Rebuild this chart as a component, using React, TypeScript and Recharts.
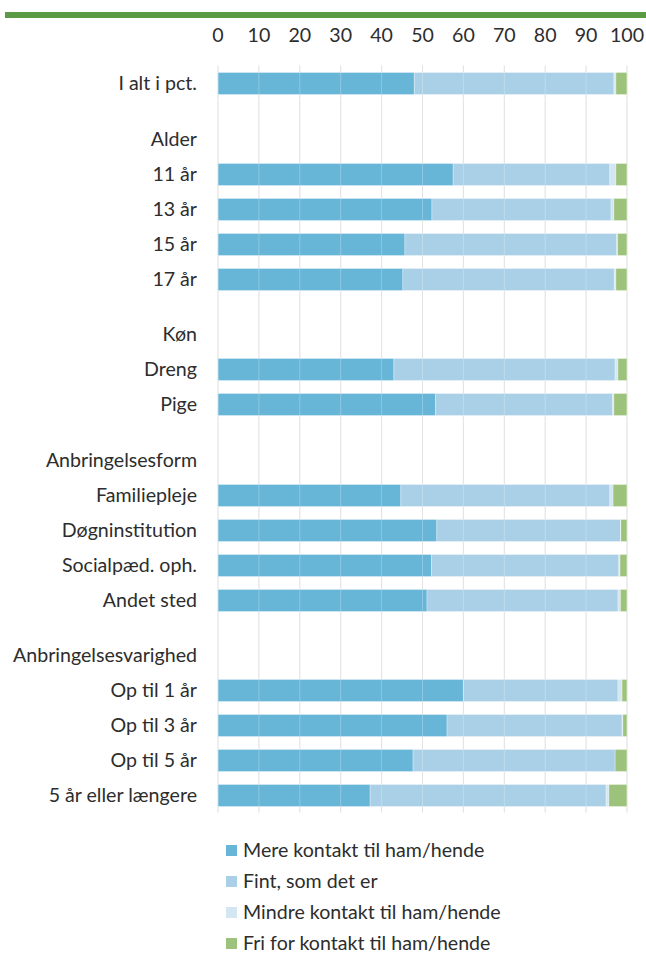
import { BarChart, Bar, XAxis, YAxis, CartesianGrid, Legend } from 'recharts';

// row labels per group, series values run over all rows in the same order
const TOTAL_ROWS = ['I alt i pct.'];
const ALDER_ROWS = ['11 år', '13 år', '15 år', '17 år'];
const KOEN_ROWS = ['Dreng', 'Pige'];
const FORM_ROWS = ['Familiepleje', 'Døgninstitution', 'Socialpæd. oph.', 'Andet sted'];
const VARIGHED_ROWS = ['Op til 1 år', 'Op til 3 år', 'Op til 5 år', '5 år eller længere'];

const GROUP_HEADERS = ['', 'Alder', 'Køn', 'Anbringelsesform', 'Anbringelsesvarighed'];

const MERE = [48.0, 57.5, 52.3, 45.7, 45.2, 43.0, 53.2, 44.7, 53.5, 52.2, 51.1, 60.0, 56.0, 47.7, 37.2];
const FINT = [48.8, 38.3, 43.8, 51.8, 51.7, 54.1, 43.3, 51.1, 44.9, 45.8, 46.7, 37.8, 42.8, 49.4, 57.7];
const MINDRE = [0.5, 1.5, 0.7, 0.2, 0.4, 0.7, 0.3, 0.8, 0.1, 0.3, 0.6, 1.0, 0.2, 0.0, 0.7];
const FRI = [2.7, 2.7, 3.2, 2.4, 2.7, 2.2, 3.2, 3.4, 1.5, 1.7, 1.6, 1.2, 1.0, 2.9, 4.4];

const X_TICKS = [0, 10, 20, 30, 40, 50, 60, 70, 80, 90, 100];

const SERIES = [
  { key: 'mere', name: 'Mere kontakt til ham/hende', color: '#67b5d7' },
  { key: 'fint', name: 'Fint, som det er', color: '#a9d0e6' },
  { key: 'mindre', name: 'Mindre kontakt til ham/hende', color: '#d3e6f1' },
  { key: 'fri', name: 'Fri for kontakt til ham/hende', color: '#9dc27b' },
];

const FONT = 'Lato, "Noto Sans", sans-serif';
const FONT_SIZE = 19.6;
const TEXT_COLOR = '#2d2d2d';
const WIDTH = 646;
const LABEL_W = 218;
const RIGHT = 19;
const BAND = 35;
const GAP = 20.5;
const AXIS_H = 65.5;
const LEGEND_TOP = 22;
const LEGEND_ROW = 31;

function buildGroups() {
  const lists = [TOTAL_ROWS, ALDER_ROWS, KOEN_ROWS, FORM_ROWS, VARIGHED_ROWS];
  let idx = 0;
  return lists.map((rows, g) => {
    const table: any[] = [];
    if (GROUP_HEADERS[g]) table.push({ label: GROUP_HEADERS[g] });
    rows.forEach((label) => {
      table.push({ label, mere: MERE[idx], fint: FINT[idx], mindre: MINDRE[idx], fri: FRI[idx] });
      idx++;
    });
    return table;
  });
}

const YTick = ({ y, payload }: any) => (
  <text x={LABEL_W - 21} y={y} dy="0.35em" textAnchor="end" fontFamily={FONT} fontSize={FONT_SIZE} fill={TEXT_COLOR}>
    {payload.value}
  </text>
);

const XTick = ({ x, payload }: any) => (
  <text x={x} y={42} textAnchor="middle" fontFamily={FONT} fontSize={FONT_SIZE} fill={TEXT_COLOR}>
    {payload.value}
  </text>
);

// legend keeps the series order instead of the default alphabetical sort
const LegendContent = () => (
  <div style={{ paddingTop: LEGEND_TOP, paddingLeft: 226, fontFamily: FONT, fontSize: FONT_SIZE, color: TEXT_COLOR }}>
    {SERIES.map((s) => (
      <div key={s.key} style={{ height: LEGEND_ROW, display: 'flex', alignItems: 'center' }}>
        <span style={{ display: 'inline-block', width: 11, height: 11, background: s.color, marginRight: 6 }} />
        <span style={{ lineHeight: '16px' }}>{s.name}</span>
      </div>
    ))}
  </div>
);

function GroupChart({ data, first, last }: { data: any[]; first?: boolean; last?: boolean }) {
  const top = first ? AXIS_H : GAP;
  const legendH = last ? LEGEND_TOP + SERIES.length * LEGEND_ROW : 0;
  const height = top + data.length * BAND + legendH;
  return (
    <BarChart
      width={WIDTH}
      height={height}
      data={data}
      layout="vertical"
      margin={{ top: 0, right: RIGHT, bottom: 0, left: 0 }}
      barSize={22}
    >
      <CartesianGrid horizontal={false} stroke="#d9d9d9" />
      <XAxis
        type="number"
        domain={[0, 100]}
        ticks={X_TICKS}
        allowDataOverflow
        orientation="top"
        hide={!first}
        height={first ? AXIS_H : 0}
        axisLine={false}
        tickLine={false}
        tick={<XTick />}
        interval={0}
      />
      <YAxis
        type="category"
        dataKey="label"
        width={LABEL_W}
        axisLine={false}
        tickLine={false}
        tick={<YTick />}
        interval={0}
        padding={{ top: first ? 0 : GAP, bottom: 0 }}
      />
      {SERIES.map((s) => (
        <Bar
          key={s.key}
          dataKey={s.key}
          name={s.name}
          stackId="a"
          fill={s.color}
          stroke="#ffffff"
          strokeOpacity={0.3}
          isAnimationActive={false}
        />
      ))}
      <CartesianGrid horizontal={false} stroke="#ffffff" strokeOpacity={0.25} zIndex={600} />
      {last && (
        <Legend
          layout="vertical"
          align="center"
          verticalAlign="bottom"
          wrapperStyle={{ left: 0, width: WIDTH }}
          content={<LegendContent />}
        />
      )}
    </BarChart>
  );
}

export default function App() {
  const groups = buildGroups();
  return (
    <div style={{ position: 'absolute', top: 0, left: 0, width: WIDTH, height: 956, overflow: 'hidden', background: '#fff' }}>
      <div style={{ position: 'absolute', top: 12, left: 5, width: 641, height: 6, background: '#5b9b45' }} />
      {groups.map((data, i) => (
        <GroupChart key={i} data={data} first={i === 0} last={i === groups.length - 1} />
      ))}
    </div>
  );
}
